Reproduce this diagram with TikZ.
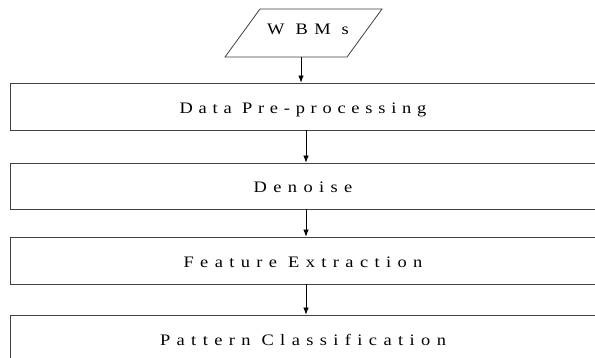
\documentclass[tikz,border=0pt]{standalone}
\usepackage{fontspec}
\setmainfont{Liberation Serif}
\newfontfamily\spacedfont[LetterSpace=40, FakeStretch=1.15]{Liberation Serif}
\usetikzlibrary{arrows.meta}
\begin{document}
\begin{tikzpicture}[x=1pt,y=-1pt,
  textfont/.style={font=\spacedfont\fontsize{16}{19}\selectfont, text height=16pt, text depth=2pt},
  stagebox/.style={textfont, draw=black!75, line width=0.8pt, minimum width=586pt, inner sep=0pt},
  flowarrow/.style={draw=black, line width=0.8pt, -{Latex[length=7pt,width=5.5pt]}},
  inlabel/.style={textfont, inner sep=0pt}]
\useasboundingbox (0,0) rectangle (595,358);
% input parallelogram
\coordinate (ptl) at (260,9);
\coordinate (ptr) at (382,9);
\coordinate (pbr) at (347,57);
\coordinate (pbl) at (225,57);
\draw[draw=black!75, line width=0.8pt] (ptl) -- (ptr) -- (pbr) -- (pbl) -- cycle;
\node[inlabel] (wbms) at (308,28) {W BM s};
\coordinate (pout) at (301,57);
% processing stages
\node[stagebox, minimum height=47pt] (prep) at (303,106.5) {\addfontfeature{LetterSpace=36}Data Pre-processing};
\node[stagebox, minimum height=46pt] (denoise) at (303,186) {Denoise};
\node[stagebox, minimum height=47pt] (feat) at (303,260.5) {Feature Extraction};
\node[stagebox, minimum height=47pt] (cls) at (303,338.5) {Pattern Classification};
% connectors
\draw[flowarrow] (pout) -- (pout |- prep.north);
\draw[flowarrow] ([xshift=3pt]prep.south) -- ([xshift=3pt]denoise.north);
\draw[flowarrow] ([xshift=3pt]denoise.south) -- ([xshift=3pt]feat.north);
\draw[flowarrow] ([xshift=3pt]feat.south) -- ([xshift=3pt]cls.north);
\end{tikzpicture}
\end{document}
